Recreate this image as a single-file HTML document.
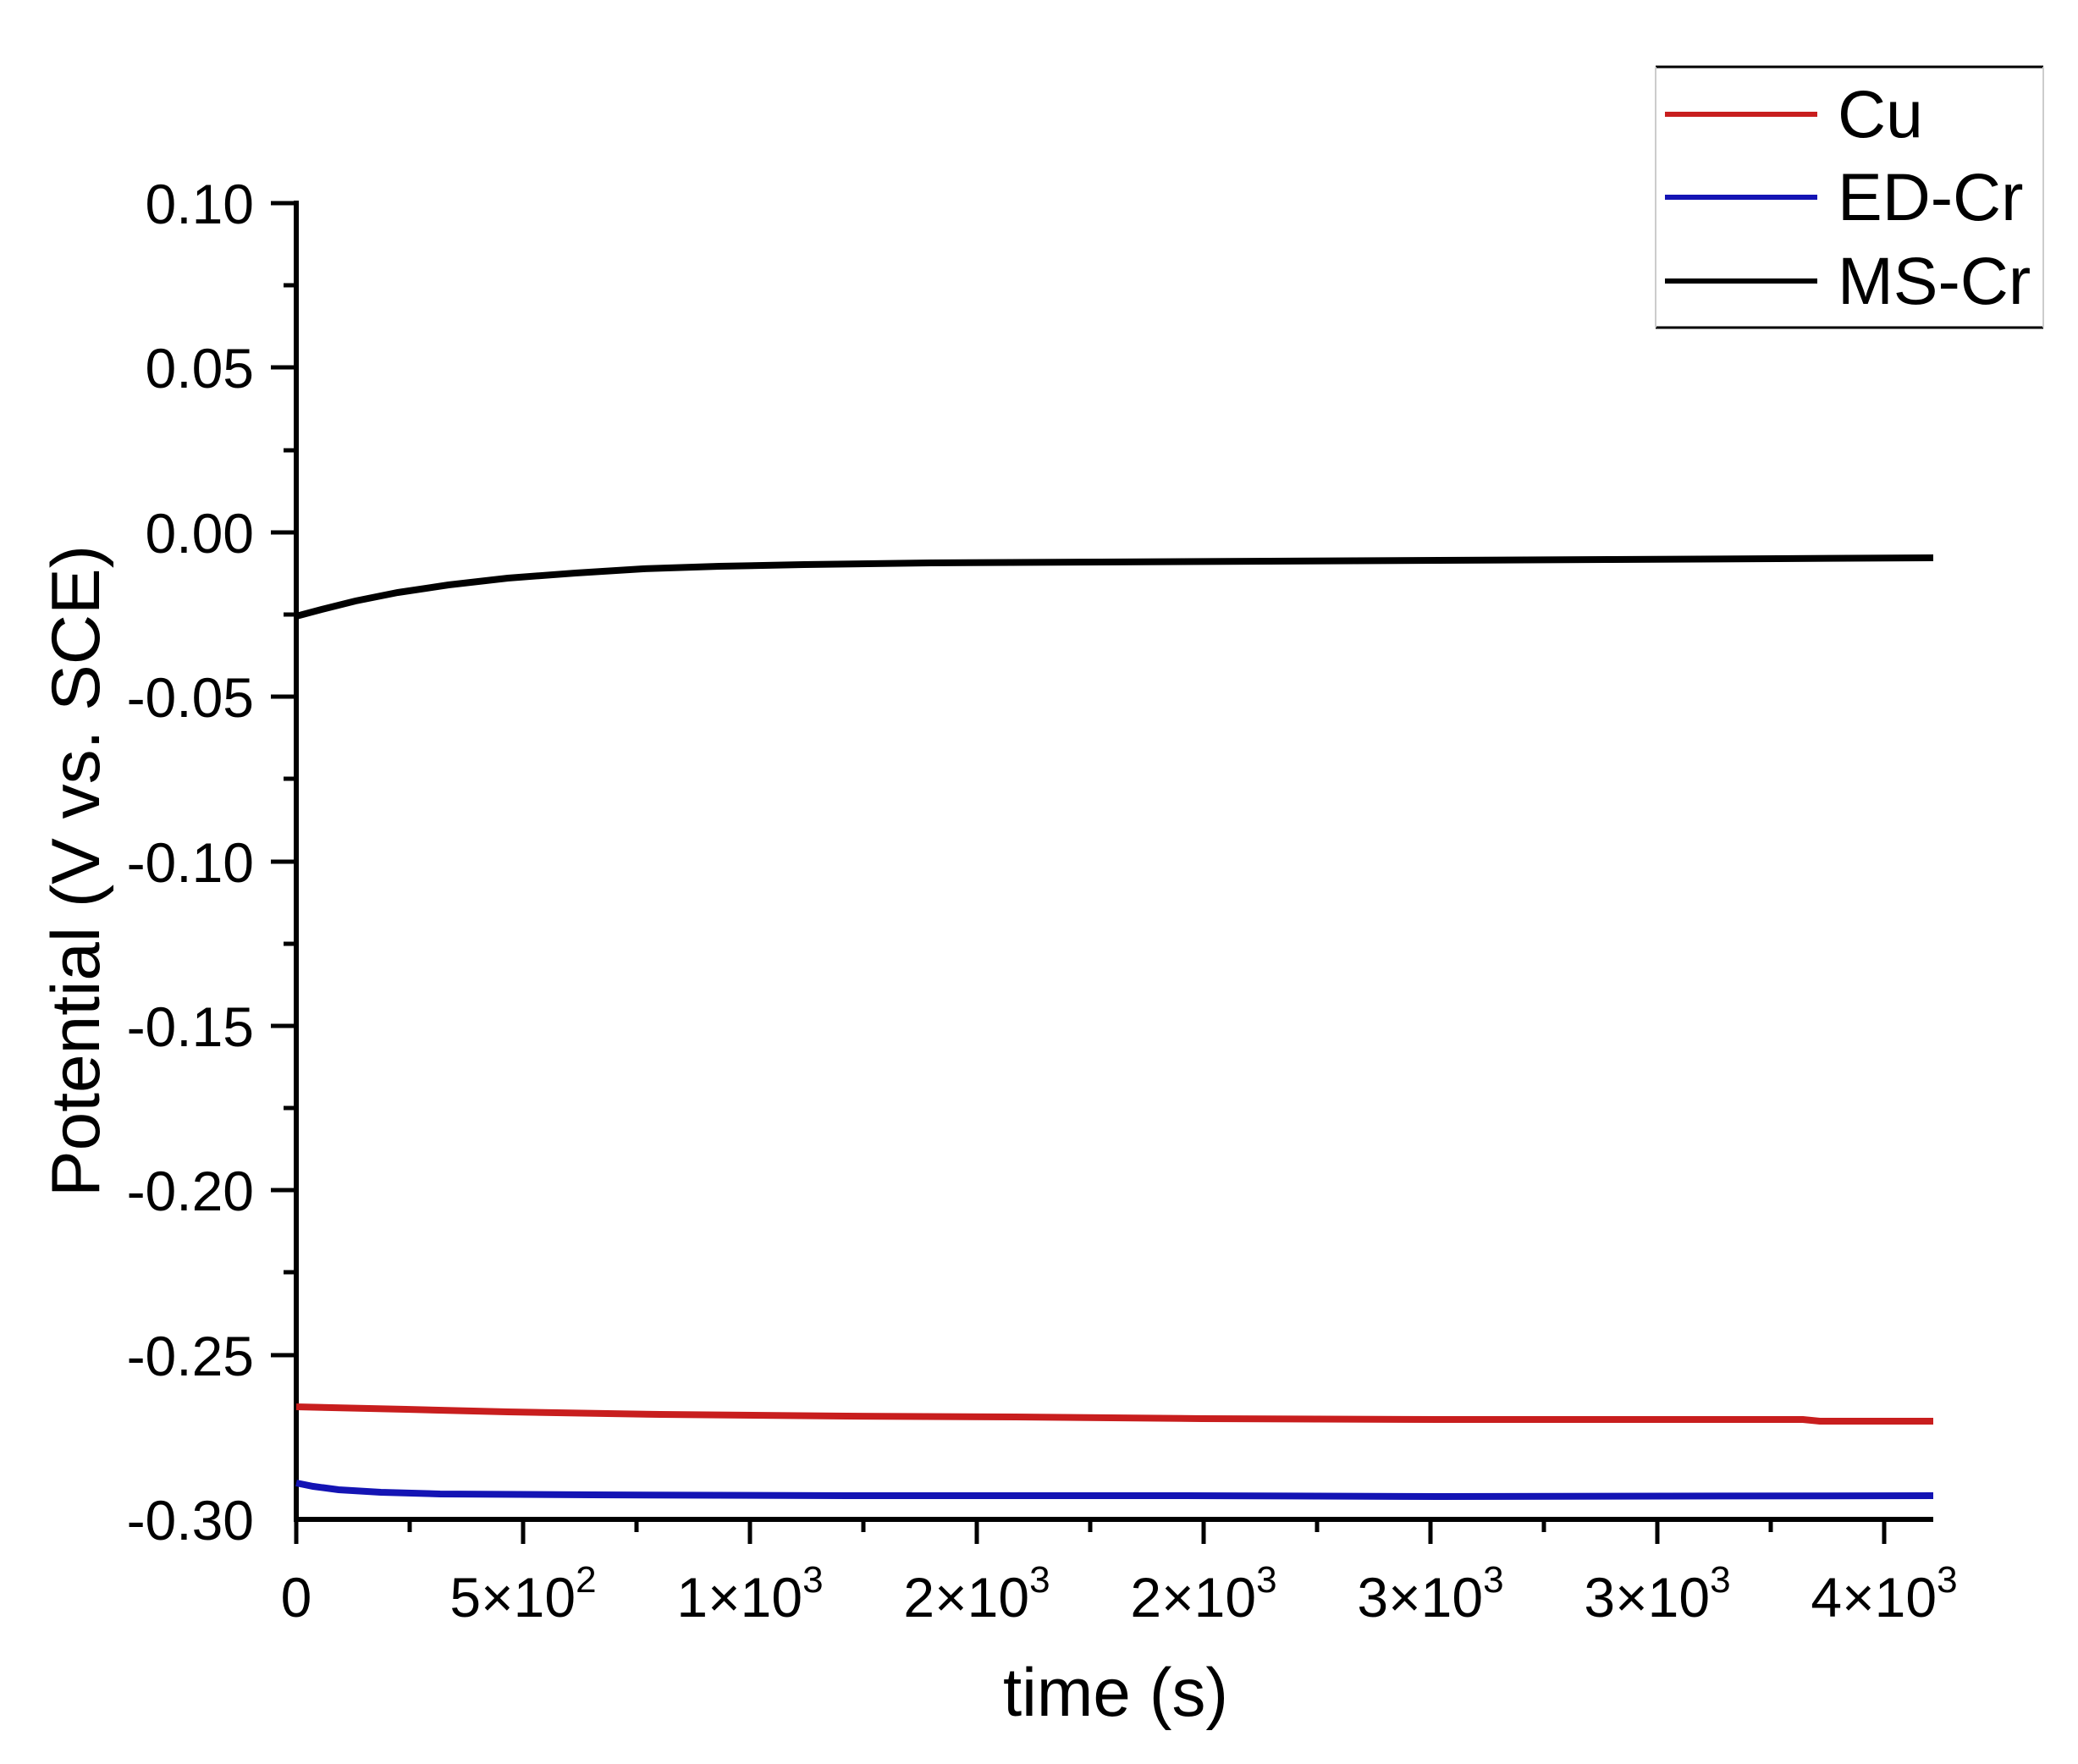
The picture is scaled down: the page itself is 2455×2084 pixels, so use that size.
<!DOCTYPE html>
<html><head><meta charset="utf-8"><style>html,body{margin:0;padding:0;background:#fff}svg{display:block}</style></head>
<body>
<svg width="2455" height="2084" viewBox="0 0 2455 2084" xmlns="http://www.w3.org/2000/svg" font-family="Liberation Sans, Arial, sans-serif">
<rect width="2455" height="2084" fill="#fff"/>
<g stroke="#000" stroke-width="6" fill="none">
<line x1="350" y1="237" x2="350" y2="1798"/>
<line x1="347" y1="1795" x2="2284" y2="1795"/>
</g>
<g stroke="#000" stroke-width="5">
<line x1="320" y1="240" x2="350" y2="240"/>
<line x1="320" y1="434" x2="350" y2="434"/>
<line x1="320" y1="629" x2="350" y2="629"/>
<line x1="320" y1="823" x2="350" y2="823"/>
<line x1="320" y1="1018" x2="350" y2="1018"/>
<line x1="320" y1="1212" x2="350" y2="1212"/>
<line x1="320" y1="1406" x2="350" y2="1406"/>
<line x1="320" y1="1601" x2="350" y2="1601"/>
<line x1="335" y1="337" x2="350" y2="337"/>
<line x1="335" y1="532" x2="350" y2="532"/>
<line x1="335" y1="726" x2="350" y2="726"/>
<line x1="335" y1="920" x2="350" y2="920"/>
<line x1="335" y1="1115" x2="350" y2="1115"/>
<line x1="335" y1="1309" x2="350" y2="1309"/>
<line x1="335" y1="1503" x2="350" y2="1503"/>
</g>
<g stroke="#000" stroke-width="5">
<line x1="350" y1="1795" x2="350" y2="1824"/>
<line x1="618" y1="1795" x2="618" y2="1824"/>
<line x1="886" y1="1795" x2="886" y2="1824"/>
<line x1="1154" y1="1795" x2="1154" y2="1824"/>
<line x1="1422" y1="1795" x2="1422" y2="1824"/>
<line x1="1690" y1="1795" x2="1690" y2="1824"/>
<line x1="1958" y1="1795" x2="1958" y2="1824"/>
<line x1="2226" y1="1795" x2="2226" y2="1824"/>
<line x1="484" y1="1795" x2="484" y2="1810"/>
<line x1="752" y1="1795" x2="752" y2="1810"/>
<line x1="1020" y1="1795" x2="1020" y2="1810"/>
<line x1="1288" y1="1795" x2="1288" y2="1810"/>
<line x1="1556" y1="1795" x2="1556" y2="1810"/>
<line x1="1824" y1="1795" x2="1824" y2="1810"/>
<line x1="2092" y1="1795" x2="2092" y2="1810"/>
</g>
<g font-size="66" text-anchor="end" fill="#000">
<text x="300" y="264">0.10</text>
<text x="300" y="458">0.05</text>
<text x="300" y="653">0.00</text>
<text x="300" y="847">-0.05</text>
<text x="300" y="1042">-0.10</text>
<text x="300" y="1236">-0.15</text>
<text x="300" y="1430">-0.20</text>
<text x="300" y="1625">-0.25</text>
<text x="300" y="1819">-0.30</text>
</g>
<g font-size="66" text-anchor="middle" fill="#000">
<text x="350" y="1910">0</text>
<text x="618" y="1910">5×10<tspan font-size="44" dy="-29">2</tspan></text>
<text x="886" y="1910">1×10<tspan font-size="44" dy="-29">3</tspan></text>
<text x="1154" y="1910">2×10<tspan font-size="44" dy="-29">3</tspan></text>
<text x="1422" y="1910">2×10<tspan font-size="44" dy="-29">3</tspan></text>
<text x="1690" y="1910">3×10<tspan font-size="44" dy="-29">3</tspan></text>
<text x="1958" y="1910">3×10<tspan font-size="44" dy="-29">3</tspan></text>
<text x="2226" y="1910">4×10<tspan font-size="44" dy="-29">3</tspan></text>
</g>
<text x="1318" y="2027" font-size="81" text-anchor="middle" textLength="266" lengthAdjust="spacingAndGlyphs">time (s)</text>
<text transform="translate(117,1029) rotate(-90)" font-size="81" text-anchor="middle" textLength="770" lengthAdjust="spacingAndGlyphs">Potential (V vs. SCE)</text>
<polyline fill="none" stroke="#000" stroke-width="8" points="350,728 380,720 420,710 470,700 530,691 600,683 680,677 760,672 850,669 950,667 1100,665 1300,664 1500,663 1700,662 1900,661 2100,660 2284,659"/>
<polyline fill="none" stroke="#c81e1e" stroke-width="8" points="350,1662 480,1665 600,1668 780,1671 1000,1673 1200,1674 1420,1676 1700,1677 2000,1677 2130,1677 2150,1679 2284,1679"/>
<polyline fill="none" stroke="#1414b4" stroke-width="8" points="350,1752 370,1756 400,1760 450,1763 520,1765 700,1766 1000,1767 1400,1767 1700,1768 2284,1767"/>
<line x1="1956" y1="79" x2="2414" y2="79" stroke="#000" stroke-width="3"/>
<line x1="1956" y1="387" x2="2414" y2="387" stroke="#000" stroke-width="3"/>
<line x1="1956" y1="79" x2="1956" y2="387" stroke="#ccc" stroke-width="2"/>
<line x1="2414" y1="79" x2="2414" y2="387" stroke="#ccc" stroke-width="2"/>
<line x1="1967" y1="135" x2="2147" y2="135" stroke="#c81e1e" stroke-width="6"/>
<line x1="1967" y1="233" x2="2147" y2="233" stroke="#1414b4" stroke-width="6"/>
<line x1="1967" y1="332" x2="2147" y2="332" stroke="#000" stroke-width="6"/>
<g font-size="79" fill="#000">
<text x="2171" y="162">Cu</text>
<text x="2171" y="260">ED-Cr</text>
<text x="2171" y="359">MS-Cr</text>
</g>
</svg>
</body></html>
